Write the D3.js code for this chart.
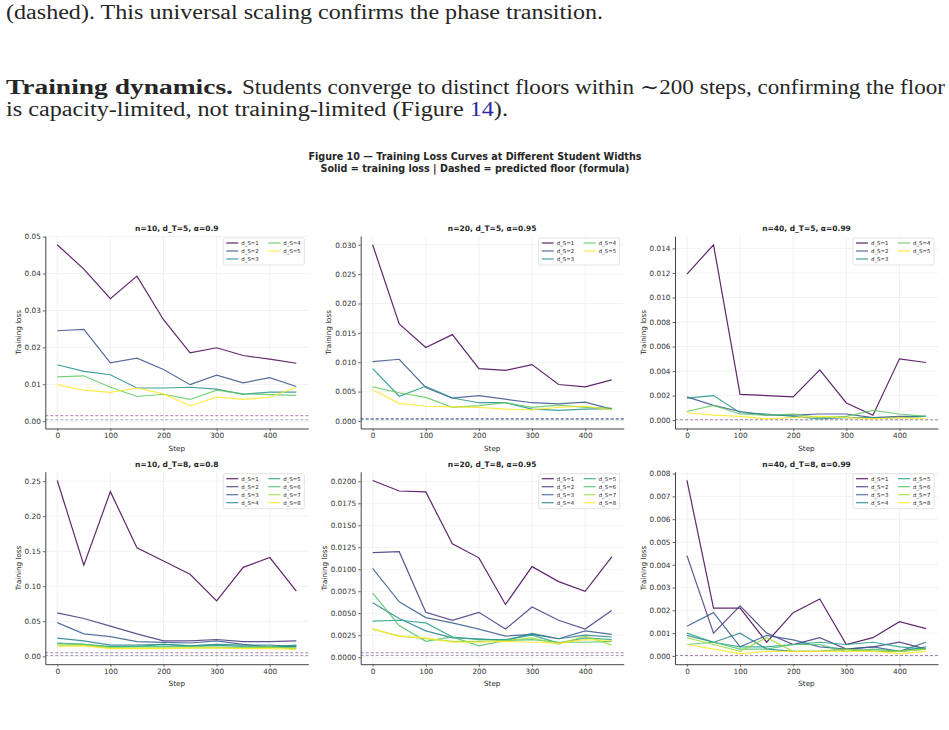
<!DOCTYPE html>
<html>
<head>
<meta charset="utf-8">
<script src="https://cdn.jsdelivr.net/npm/d3@7"></script>
<style>
body { margin:0; background:#fff; }
svg text { font-family:"DejaVu Sans", sans-serif; fill:#262626; }
</style>
</head>
<body>
<svg id="page" width="949" height="730"></svg>
<script>
// Figure 10 -- training loss curves, one panel per (n, d_T, alpha).
// Each LOSS_x array holds one row per student width d_S=1..d_T,
// each row is the loss at the steps in STEPS.

var STEPS = [0,50,100,150,200,250,300,350,400,450];
var XTICKS = [0,100,200,300,400];

// n=10, d_T=5, a=0.9
var LOSS_A = [
	[0.0478,0.0412,0.0332,0.0393,0.0275,0.0185,0.0199,0.0178,0.0168,0.0157],
	[0.0245,0.0249,0.0158,0.0171,0.0140,0.0099,0.0125,0.0104,0.0118,0.0094],
	[0.0153,0.0135,0.0126,0.0090,0.0090,0.0092,0.0087,0.0073,0.0079,0.0079],
	[0.0120,0.0123,0.0092,0.0067,0.0073,0.0059,0.0084,0.0074,0.0072,0.0070],
	[0.0099,0.0084,0.0078,0.0090,0.0074,0.0042,0.0065,0.0059,0.0065,0.0092]];
var FLOOR_A = [0.0015,0.0004,0,0,0];
var YTICKS_A = [0,0.01,0.02,0.03,0.04,0.05];

// n=20, d_T=5, a=0.95
var LOSS_B = [
	[0.0300,0.0165,0.0125,0.0147,0.0089,0.0086,0.0096,0.0062,0.0058,0.0070],
	[0.0101,0.0105,0.0057,0.0039,0.0043,0.0037,0.0031,0.0029,0.0032,0.0020],
	[0.0089,0.0042,0.0059,0.0039,0.0031,0.0031,0.0020,0.0018,0.0020,0.0021],
	[0.0058,0.0048,0.0040,0.0023,0.0026,0.0031,0.0023,0.0027,0.0023,0.0022],
	[0.0053,0.0030,0.0025,0.0024,0.0023,0.0020,0.0019,0.0023,0.0025,0.0019]];
var FLOOR_B = [0.0004,0.0003,0.0002,0,0];
var YTICKS_B = [0,0.005,0.010,0.015,0.020,0.025,0.030];

// n=40, d_T=5, a=0.99
var LOSS_C = [
	[0.0119,0.0143,0.0021,0.0020,0.0019,0.0041,0.0014,0.0004,0.0050,0.0047],
	[0.0019,0.0012,0.0007,0.0004,0.0004,0.0005,0.0005,0.0002,0.0003,0.0003],
	[0.0018,0.0020,0.0006,0.0005,0.0003,0.0001,0.0002,0.0002,0.0002,0.0003],
	[0.0007,0.0012,0.0005,0.0004,0.0005,0.0002,0.0003,0.0008,0.0005,0.0003],
	[0.0006,0.0004,0.0003,0.0001,0.0002,0.0003,0.0002,0.0001,0.0002,0.0001]];
var FLOOR_C = [0.00003,0,0,0,0];
var YTICKS_C = [0,0.002,0.004,0.006,0.008,0.010,0.012,0.014];

// n=10, d_T=8, a=0.8
var LOSS_D = [
	[0.251,0.130,0.235,0.155,0.136,0.117,0.079,0.127,0.141,0.093],
	[0.062,0.054,0.043,0.032,0.022,0.022,0.024,0.021,0.021,0.022],
	[0.048,0.032,0.028,0.021,0.020,0.019,0.022,0.017,0.013,0.015],
	[0.026,0.022,0.016,0.016,0.017,0.015,0.017,0.016,0.016,0.014],
	[0.019,0.017,0.014,0.014,0.017,0.015,0.016,0.014,0.013,0.016],
	[0.018,0.017,0.013,0.014,0.014,0.014,0.013,0.013,0.013,0.012],
	[0.016,0.016,0.012,0.012,0.012,0.012,0.012,0.012,0.013,0.011],
	[0.014,0.015,0.011,0.011,0.011,0.012,0.012,0.011,0.011,0.010]];
var FLOOR_D = [0.005,0.0012,0,0,0,0,0,0];
var YTICKS_D = [0,0.05,0.10,0.15,0.20,0.25];

// n=20, d_T=8, a=0.95
var LOSS_E = [
	[0.0201,0.0189,0.0188,0.0129,0.0113,0.0060,0.0103,0.0086,0.0075,0.0114],
	[0.0119,0.0120,0.0051,0.0042,0.0051,0.0032,0.0057,0.0042,0.0032,0.0053],
	[0.0101,0.0063,0.0045,0.0039,0.0032,0.0024,0.0026,0.0021,0.0030,0.0026],
	[0.0062,0.0044,0.0030,0.0022,0.0021,0.0019,0.0027,0.0021,0.0025,0.0023],
	[0.0041,0.0042,0.0039,0.0023,0.0020,0.0020,0.0025,0.0016,0.0022,0.0020],
	[0.0073,0.0036,0.0018,0.0023,0.0013,0.0019,0.0020,0.0017,0.0017,0.0018],
	[0.0032,0.0024,0.0021,0.0018,0.0018,0.0019,0.0022,0.0015,0.0024,0.0014],
	[0.0032,0.0024,0.0022,0.0017,0.0017,0.0018,0.0017,0.0016,0.0020,0.0019]];
var FLOOR_E = [0.0005,0.0002,0,0,0,0,0,0];
var YTICKS_E = [0,0.0025,0.0050,0.0075,0.0100,0.0125,0.0150,0.0175,0.0200];

// n=40, d_T=8, a=0.99
var LOSS_F = [
	[0.0077,0.0021,0.0021,0.0006,0.0019,0.0025,0.0005,0.0008,0.0015,0.0012],
	[0.0044,0.0010,0.0022,0.0010,0.0005,0.0008,0.0003,0.0004,0.0006,0.0003],
	[0.0013,0.0019,0.0004,0.0009,0.0007,0.0004,0.0003,0.0004,0.0002,0.0006],
	[0.0009,0.0006,0.0010,0.0003,0.0002,0.0002,0.0003,0.0002,0.0002,0.0004],
	[0.0010,0.0006,0.0004,0.0004,0.0005,0.0006,0.0005,0.0006,0.0004,0.0003],
	[0.0005,0.0006,0.0003,0.0003,0.0005,0.0005,0.0002,0.0003,0.0002,0.0003],
	[0.0008,0.0005,0.0002,0.0008,0.0002,0.0002,0.0003,0.0002,0.0002,0.0003],
	[0.0005,0.0003,0.0001,0.0002,0.0002,0.0002,0.0002,0.0002,0.0001,0.0002]];
var FLOOR_F = [0.00002,0,0,0,0,0,0,0];
var YTICKS_F = [0,0.001,0.002,0.003,0.004,0.005,0.006,0.007,0.008];

var TITLES = ["n=10, d_T=5, \u03b1=0.9","n=20, d_T=5, \u03b1=0.95","n=40, d_T=5, \u03b1=0.99",
	"n=10, d_T=8, \u03b1=0.8","n=20, d_T=8, \u03b1=0.95","n=40, d_T=8, \u03b1=0.99"];

var panels = [
	{loss:LOSS_A, floor:FLOOR_A, ticks:YTICKS_A, fmt:".2f"},
	{loss:LOSS_B, floor:FLOOR_B, ticks:YTICKS_B, fmt:".3f"},
	{loss:LOSS_C, floor:FLOOR_C, ticks:YTICKS_C, fmt:".3f"},
	{loss:LOSS_D, floor:FLOOR_D, ticks:YTICKS_D, fmt:".2f"},
	{loss:LOSS_E, floor:FLOOR_E, ticks:YTICKS_E, fmt:".4f"},
	{loss:LOSS_F, floor:FLOOR_F, ticks:YTICKS_F, fmt:".3f"}];

// layout of the axes grid (pixels)
var COLS = [45.3, 360.7, 675];
var ROWS = [236, 471.7];
var AW = 263, AH = 192.5;

var svg = d3.select("#page");

drawText();
drawSuptitle();
panels.forEach(function(p,i) {
	p.title = TITLES[i];
	drawPanel(p, COLS[i%3], ROWS[Math.floor(i/3)]);
});

// paper text above the figure
function drawText() {
	var serif = "'Liberation Serif', 'DejaVu Serif', serif";
	svg.append("text").attr("x",6).attr("y",19)
		.style("font-family",serif).style("font-size","20px")
		.attr("textLength",597).attr("lengthAdjust","spacingAndGlyphs")
		.text("(dashed). This universal scaling confirms the phase transition.");

	svg.append("text").attr("x",6).attr("y",94)
		.style("font-family",serif).style("font-size","20px").style("font-weight","bold")
		.attr("textLength",227).attr("lengthAdjust","spacingAndGlyphs")
		.text("Training dynamics.");
	svg.append("text").attr("x",242).attr("y",94)
		.style("font-family",serif).style("font-size","20px")
		.attr("textLength",703).attr("lengthAdjust","spacingAndGlyphs")
		.text("Students converge to distinct floors within \u223c200 steps, confirming the floor");

	var t = svg.append("text").attr("x",6).attr("y",116)
		.style("font-family",serif).style("font-size","20px")
		.attr("textLength",502).attr("lengthAdjust","spacingAndGlyphs");
	t.append("tspan").text("is capacity-limited, not training-limited (Figure ");
	t.append("tspan").style("fill","#2a2aa0").text("14");
	t.append("tspan").text(").");
}

function drawSuptitle() {
	var g = svg.append("g").attr("text-anchor","middle")
		.style("font-size","9.6px").style("font-weight","bold");
	g.append("text").attr("x",475).attr("y",159.5)
		.text("Figure 10 \u2014 Training Loss Curves at Different Student Widths");
	g.append("text").attr("x",475).attr("y",171.5)
		.text("Solid = training loss  |  Dashed = predicted floor (formula)");
}

// one subplot: grid, floors (dashed), loss curves, axes, labels, legend
function drawPanel(p, left, top) {
	var n = p.loss.length;
	var color = i => d3.interpolateViridis(n==1 ? 0 : i/(n-1));
	var floors = p.floor.map((f,i) => [f,i]).filter(d => d[0]>0);

	var all = d3.merge(p.loss).concat(floors.map(d => d[0]));
	var lo = d3.min(all), hi = d3.max(all), pad = (hi-lo)*0.05;

	var x = d3.scaleLinear().domain([-22.5,472.5]).range([0,AW]);
	var y = d3.scaleLinear().domain([lo-pad,hi+pad]).range([AH,0]);

	var g = svg.append("g").attr("transform","translate("+left+","+top+")");

	// grid
	g.append("g").selectAll("line").data(XTICKS).enter().append("line")
		.attr("x1",d => x(d)).attr("x2",d => x(d)).attr("y1",0).attr("y2",AH)
		.style("stroke","#ececec").style("stroke-width",0.7);
	g.append("g").selectAll("line").data(p.ticks).enter().append("line")
		.attr("x1",0).attr("x2",AW).attr("y1",d => y(d)).attr("y2",d => y(d))
		.style("stroke","#ececec").style("stroke-width",0.7);

	// predicted floors
	g.append("g").selectAll("line").data(floors).enter().append("line")
		.attr("x1",0).attr("x2",AW).attr("y1",d => y(d[0])).attr("y2",d => y(d[0]))
		.style("stroke",d => color(d[1])).style("stroke-opacity",0.55)
		.style("stroke-width",0.9).style("stroke-dasharray","3,2");

	// loss curves
	var line = d3.line().x((d,j) => x(STEPS[j])).y(d => y(d));
	g.append("g").selectAll("path").data(p.loss).enter().append("path")
		.attr("d",line).style("fill","none")
		.style("stroke",(d,i) => color(i)).style("stroke-opacity",0.85)
		.style("stroke-width",1.2);

	// axes
	var xa = g.append("g").attr("transform","translate(0,"+AH+")")
		.call(d3.axisBottom(x).tickValues(XTICKS).tickSize(2.5).tickPadding(2).tickSizeOuter(0));
	var ya = g.append("g")
		.call(d3.axisLeft(y).tickValues(p.ticks).tickFormat(d3.format(p.fmt)).tickSize(2.5).tickPadding(2).tickSizeOuter(0));
	[xa,ya].forEach(function(a) {
		a.select(".domain").style("stroke","#444").style("stroke-width",1);
		a.selectAll(".tick line").style("stroke","#444").style("stroke-width",0.8);
		a.selectAll("text").style("font-family","DejaVu Sans").style("font-size","7.3px").style("fill","#333");
	});

	var bb = ya.node().getBBox();
	g.append("text").attr("transform","translate("+(bb.x-4)+","+(AH/2)+") rotate(-90)")
		.attr("text-anchor","middle").style("font-size","7.2px").text("Training loss");
	g.append("text").attr("x",AW/2).attr("y",AH+22).attr("text-anchor","middle")
		.style("font-size","7.2px").text("Step");
	g.append("text").attr("x",AW/2).attr("y",-5).attr("text-anchor","middle")
		.style("font-size","7.5px").style("font-weight","bold").text(p.title);

	drawLegend(g, n, color);
}

// two column legend in the top right corner (column-major like matplotlib)
function drawLegend(g, n, color) {
	var rows = Math.ceil(n/2);
	var lw = 81, lh = rows*8+3;
	var lg = g.append("g").attr("transform","translate("+(AW-4-lw)+",2)");
	lg.append("rect").attr("width",lw).attr("height",lh).attr("rx",1.5)
		.style("fill","#fff").style("fill-opacity",0.8)
		.style("stroke","#d0d0d0").style("stroke-width",0.6);
	var items = lg.selectAll("g.item").data(d3.range(n)).enter().append("g")
		.attr("class","item")
		.attr("transform",i => "translate("+(i<rows ? 0 : 42)+","+(5+(i%rows)*8)+")");
	items.append("line").attr("x1",3).attr("x2",15).attr("y1",0).attr("y2",0)
		.style("stroke",i => color(i)).style("stroke-opacity",0.85).style("stroke-width",1.2);
	items.append("text").attr("x",18).attr("y",1.8)
		.style("font-size","5.4px").text(i => "d_S="+(i+1));
}
</script>
</body>
</html>
